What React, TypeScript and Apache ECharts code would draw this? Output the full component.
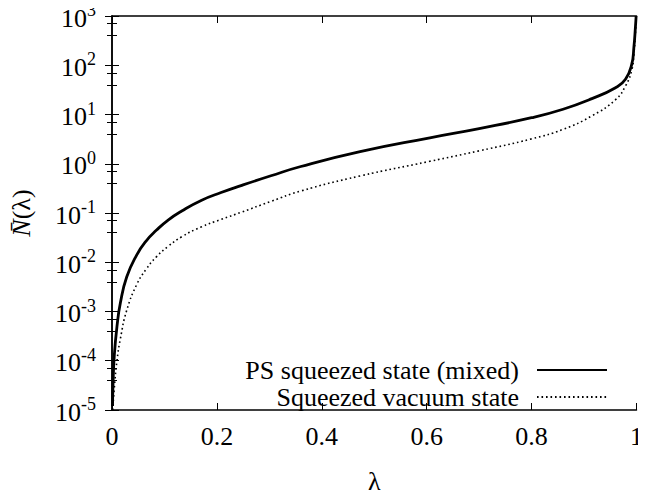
import React, { useEffect, useRef } from "react";
import * as echarts from "echarts";

// λ values and mean photon numbers
const lambdaPS = [0.001, 0.002, 0.0044, 0.0095, 0.016, 0.028, 0.047, 0.065, 0.085, 0.107, 0.133, 0.17, 0.208, 0.246, 0.303, 0.36, 0.473, 0.606, 0.70, 0.8, 0.86, 0.915, 0.96, 0.979, 0.991, 0.995, 0.998, 0.9993];
const nPSMixed = [1.2e-5, 3.5e-5, 1.3e-4, 5.0e-4, 1.5e-3, 5.0e-3, 0.014, 0.027, 0.045, 0.072, 0.11, 0.18, 0.26, 0.36, 0.57, 0.88, 1.76, 3.36, 5.17, 8.6, 12.8, 21, 35, 52, 105, 230, 600, 1000];

const lambdaSV = [0.0015, 0.0044, 0.0095, 0.016, 0.028, 0.047, 0.065, 0.085, 0.107, 0.133, 0.17, 0.208, 0.246, 0.303, 0.36, 0.473, 0.606, 0.70, 0.8, 0.86, 0.915, 0.96, 0.979, 0.991, 0.995, 0.998, 0.9995];
const nSqVacuum = [1.0e-5, 2.8e-5, 1.0e-4, 2.8e-4, 1.05e-3, 0.0035, 0.0072, 0.013, 0.021, 0.033, 0.052, 0.074, 0.103, 0.172, 0.28, 0.565, 1.12, 1.83, 3.2, 5.0, 9.4, 20, 38, 80, 170, 450, 1000];

const seriesNames = ["PS squeezed state (mixed)", "Squeezed vacuum state"];

const FONT = "Liberation Serif, Times New Roman, serif";

export default function App() {
  const ref = useRef<HTMLDivElement>(null);
  useEffect(() => {
    if (!ref.current) return;
    const chart = echarts.init(ref.current, undefined, { renderer: "svg" });
    const yCommon = {
      type: "log" as const,
      logBase: 10,
      min: 1e-5,
      max: 1e3,
      splitNumber: 8,
      splitLine: { show: false },
      axisLine: { show: true, lineStyle: { color: "#000", width: 1.5 } },
      axisTick: { show: true, inside: true, length: 7, lineStyle: { color: "#000", width: 1 } },
      minorTick: { show: true, splitNumber: 3, length: 5, lineStyle: { color: "#000", width: 1 } },
    };
    const xCommon = {
      type: "value" as const,
      min: 0,
      max: 1,
      interval: 0.2,
      splitLine: { show: false },
      axisLine: { show: true, onZero: false, lineStyle: { color: "#000", width: 1.5 } },
      axisTick: { show: true, inside: true, length: 7, lineStyle: { color: "#000", width: 1 } },
    };
    const legendCommon = {
      orient: "vertical" as const,
      right: 38,
      align: "right" as const,
      itemWidth: 70,
      itemHeight: 14,
      padding: 0,
      itemStyle: { opacity: 0 },
      textStyle: { fontFamily: FONT, fontSize: 26, color: "#000", padding: [0, 13, 0, 0] },
    };
    chart.setOption({
      animation: false,
      backgroundColor: "#fff",
      grid: { left: 110, right: 8, top: 16, bottom: 83, containLabel: false },
      textStyle: { fontFamily: FONT },
      legend: [
        { ...legendCommon, data: [seriesNames[0]], top: 357 },
        { ...legendCommon, data: [seriesNames[1]], top: 384 },
      ],
      xAxis: [
        {
          ...xCommon,
          position: "bottom",
          name: "λ",
          nameLocation: "middle",
          nameGap: 58,
          nameTextStyle: { fontFamily: FONT, fontSize: 26, color: "#000" },
          axisLabel: { fontFamily: FONT, fontSize: 26, color: "#000", margin: 13 },
        },
        {
          ...xCommon,
          position: "top",
          axisLabel: { show: false },
        },
      ],
      yAxis: [
        {
          ...yCommon,
          position: "left",
          name: "{i|N\u0304}{n|(λ)}",
          nameLocation: "middle",
          nameGap: 78,
          nameRotate: 90,
          nameTextStyle: {
            rich: {
              i: { fontFamily: FONT, fontSize: 26, fontStyle: "italic", color: "#000" },
              n: { fontFamily: FONT, fontSize: 26, color: "#000" },
            },
          },
          axisLabel: {
            margin: 16,
            formatter: (v: number) => {
              const e = Math.round(Math.log10(v));
              return "{b|10}{s|" + e + "}";
            },
            rich: {
              b: { fontFamily: FONT, fontSize: 26, color: "#000", lineHeight: 30, verticalAlign: "bottom" },
              s: { fontFamily: FONT, fontSize: 18, color: "#000", lineHeight: 18, verticalAlign: "top" },
            },
          },
        },
        {
          ...yCommon,
          position: "right",
          axisLabel: { show: false },
        },
      ],
      series: [
        {
          name: seriesNames[0],
          type: "line",
          showSymbol: false,
          symbol: "none",
          smooth: 0.5,
          data: lambdaPS.map((x, i) => [x, nPSMixed[i]]),
          lineStyle: { color: "#000", width: 2.8 },
          itemStyle: { color: "#000" },
          clip: true,
        },
        {
          name: seriesNames[1],
          type: "line",
          showSymbol: false,
          symbol: "none",
          smooth: 0.5,
          data: lambdaSV.map((x, i) => [x, nSqVacuum[i]]),
          lineStyle: { color: "#000", width: 1.6, type: [1.6, 2.9] },
          itemStyle: { color: "#000" },
          clip: true,
        },
      ],
    });
    return () => chart.dispose();
  }, []);
  return <div ref={ref} style={{ width: 646, height: 499, margin: -8 }} />;
}
